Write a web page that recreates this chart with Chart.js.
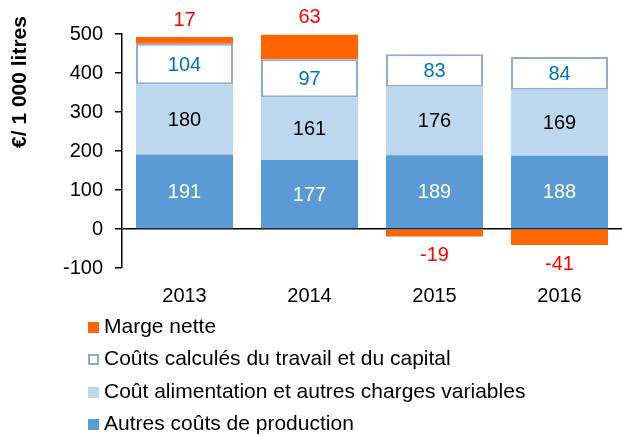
<!DOCTYPE html>
<html>
<head>
<meta charset="utf-8">
<script src="https://cdn.jsdelivr.net/npm/chart.js@4/dist/chart.umd.min.js"></script>
<style>
  body { margin: 0; background: #fff; font-family: "Liberation Sans", Arial, sans-serif; }
  #wrap { position: relative; width: 622px; height: 436px; }
  #chartBox { position: absolute; left: 0; top: 0; width: 622px; height: 318px; }
  #legend { position: absolute; left: 88px; top: 310px; font-size: 21px; color: #000; }
  #legend div { height: 32.3px; line-height: 32.3px; white-space: nowrap; }
  #legend span.box { display: inline-block; width: 11px; height: 11px; box-sizing: border-box; margin-right: 5px; vertical-align: 0px; }
</style>
</head>
<body>
<div id="wrap">
  <div id="chartBox"><canvas id="myChart"></canvas></div>
  <div id="legend"></div>
</div>
<script>
const years = ['2013', '2014', '2015', '2016'];
const autresCouts = [191, 177, 189, 188];
const alimentation = [180, 161, 176, 169];
const coutsCalcules = [104, 97, 83, 84];
const margeNette = [17, 63, -19, -41];
const yTicks = [-100, 0, 100, 200, 300, 400, 500];

const ctx = document.getElementById('myChart');
const font = "'Liberation Sans', Arial, sans-serif";

// etiquettes de valeurs + titre de l'axe
const labelsPlugin = {
    id: 'labels',
    afterDatasetsDraw(chart) {
        const c = chart.ctx;
        c.save();
        c.font = '20px ' + font;
        c.textAlign = 'center';
        chart.data.datasets.forEach(function (ds, i) {
            const meta = chart.getDatasetMeta(i);
            meta.data.forEach(function (bar, j) {
                const v = ds.data[j];
                c.fillStyle = ds.labelColor;
                if (ds.outside) {
                    if (v >= 0) {
                        c.textBaseline = 'bottom';
                        c.fillText(v, bar.x, bar.y - 7);
                    } else {
                        c.textBaseline = 'top';
                        c.fillText(v, bar.x, bar.y + 9);
                    }
                } else {
                    c.textBaseline = 'middle';
                    c.fillText(v, bar.x, (bar.y + bar.base) / 2 + 1);
                }
            });
        });
        c.translate(20, 82);
        c.rotate(-Math.PI / 2);
        c.font = 'bold 21px ' + font;
        c.fillStyle = '#000';
        c.textBaseline = 'middle';
        c.fillText('€/ 1 000 litres', 0, 0);
        c.restore();
    }
};

const chart = new Chart(ctx, {
    type: 'bar',
    data: {
        labels: years,
        datasets: [
            { label: 'Autres coûts de production', data: autresCouts, backgroundColor: '#5b9bd5', labelColor: '#fff' },
            { label: 'Coût alimentation et autres charges variables', data: alimentation, backgroundColor: '#bdd7ee', labelColor: '#000' },
            { label: 'Coûts calculés du travail et du capital', data: coutsCalcules, backgroundColor: '#fff', borderColor: '#8eaadb', borderWidth: 2, borderSkipped: false, labelColor: '#0070c0' },
            { label: 'Marge nette', data: margeNette, backgroundColor: '#ff6600', labelColor: '#ff0000', outside: true }
        ]
    },
    options: {
        responsive: true,
        maintainAspectRatio: false,
        animation: false,
        layout: { padding: { top: 34, right: 0, bottom: 2, left: 0 } },
        datasets: { bar: { categoryPercentage: 1, barPercentage: 0.776 } },
        plugins: { legend: { display: false }, tooltip: { enabled: false } },
        scales: {
            x: {
                stacked: true,
                grid: { display: false },
                border: { display: false },
                ticks: { color: '#000', font: { size: 20, family: font }, padding: 8 }
            },
            y: {
                stacked: true,
                min: -100,
                max: 500,
                afterBuildTicks: function (s) { s.ticks = yTicks.map(function (v) { return { value: v }; }); },
                afterFit: function (s) { s.width = 122; },
                border: { display: true, color: '#000', width: 1.5 },
                grid: {
                    drawOnChartArea: true,
                    color: function (c) { return c.tick && c.tick.value === 0 ? '#000' : 'rgba(0,0,0,0)'; },
                    lineWidth: 1.5,
                    tickColor: '#000',
                    tickLength: 7
                },
                ticks: { color: '#000', font: { size: 20, family: font }, padding: 12 }
            }
        }
    },
    plugins: [labelsPlugin]
});

// legende verticale
const legend = document.getElementById('legend');
chart.data.datasets.slice().reverse().forEach(function (ds) {
    const row = document.createElement('div');
    const box = document.createElement('span');
    box.className = 'box';
    box.style.background = ds.backgroundColor;
    if (ds.borderColor) box.style.border = '2px solid ' + ds.borderColor;
    row.appendChild(box);
    row.appendChild(document.createTextNode(ds.label));
    legend.appendChild(row);
});
</script>
</body>
</html>
